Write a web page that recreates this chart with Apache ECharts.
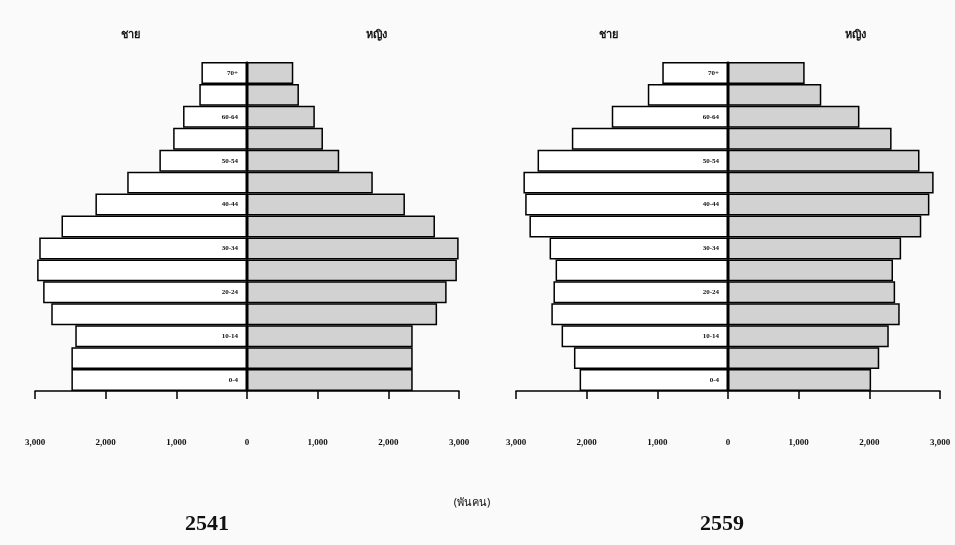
<!DOCTYPE html>
<html>
<head>
<meta charset="utf-8">
<script src="https://cdn.jsdelivr.net/npm/echarts@6/dist/echarts.min.js"></script>
<style>
  html, body { margin: 0; padding: 0; background: #fafafa; }
  #chart { width: 955px; height: 545px; }
</style>
</head>
<body>
<div id="chart"></div>
<script>
// กลุ่มอายุ (ล่างขึ้นบน)
var ages = ['0-4', '5-9', '10-14', '15-19', '20-24', '25-29', '30-34', '35-39',
            '40-44', '45-49', '50-54', '55-59', '60-64', '65-69', '70+'];

// ประชากร (พันคน) ปี 2541
var male2541   = [2485, 2485, 2430, 2770, 2885, 2970, 2940, 2625, 2145, 1695, 1240, 1045, 905, 675, 645];
var female2541 = [2345, 2345, 2345, 2690, 2825, 2970, 2995, 2660, 2235, 1780, 1305, 1075, 960, 735, 655];

// ประชากร (พันคน) ปี 2559
var male2559   = [2100, 2180, 2355, 2500, 2470, 2440, 2525, 2810, 2870, 2895, 2695, 2210, 1645, 1135, 930];
var female2559 = [2025, 2140, 2275, 2430, 2365, 2335, 2450, 2735, 2850, 2910, 2710, 2315, 1860, 1320, 1085];

var axisTicks = [-3000, 3000, 1000];

var chart = echarts.init(document.getElementById('chart'));

function fmt(v) {
  return Math.abs(v).toLocaleString('en-US');
}

function makeGrid(left) {
  return { left: left, top: 62, width: 424, height: 329 };
}

function makeXAxis(idx) {
  return {
    type: 'value',
    gridIndex: idx,
    min: axisTicks[0], max: axisTicks[1], interval: axisTicks[2],
    axisLine: { show: true, onZero: false, lineStyle: { color: '#000', width: 1.5 } },
    axisTick: { show: true, length: 8, lineStyle: { color: '#000', width: 1.5 } },
    axisLabel: {
      formatter: fmt, margin: 47, color: '#111',
      fontFamily: 'Liberation Serif', fontSize: 9, fontWeight: 'bold'
    },
    splitLine: { show: false }
  };
}

function makeYAxis(idx) {
  return {
    type: 'category',
    gridIndex: idx,
    data: ages,
    axisLine: { show: true, onZero: true, lineStyle: { color: '#000', width: 1.5 } },
    axisTick: { show: false },
    axisLabel: { show: false }
  };
}

function makeBars(idx, values, fill, sign) {
  var s = {
    type: 'bar',
    xAxisIndex: idx, yAxisIndex: idx,
    data: values.map(function (v) { return sign * v; }),
    barCategoryGap: '0%',
    barGap: '-100%',
    itemStyle: { color: fill, borderColor: '#000', borderWidth: 1.5 },
    z: 1,
    silent: true
  };
  if (sign < 0) {
    // ป้ายกลุ่มอายุเว้นช่อง อยู่ในแท่งชายชิดแกนกลาง
    s.label = {
      show: true, position: 'insideRight', distance: 9,
      color: '#111', fontFamily: 'Liberation Serif', fontSize: 7, fontWeight: 'bold',
      formatter: function (p) { return p.dataIndex % 2 === 0 ? ages[p.dataIndex] : ''; }
    };
  }
  return s;
}

function txt(x, y, s, size, weight, family) {
  return {
    type: 'text', x: x, y: y,
    style: {
      text: s, fill: '#111', align: 'center', verticalAlign: 'middle',
      font: (weight || 'normal') + ' ' + size + 'px ' + (family || '"Noto Sans", sans-serif')
    }
  };
}

chart.setOption({
  backgroundColor: '#fafafa',
  animation: false,
  grid: [makeGrid(35), makeGrid(516)],
  xAxis: [makeXAxis(0), makeXAxis(1)],
  yAxis: [makeYAxis(0), makeYAxis(1)],
  series: [
    makeBars(0, male2541, '#ffffff', -1),
    makeBars(0, female2541, '#d2d2d2', 1),
    makeBars(1, male2559, '#ffffff', -1),
    makeBars(1, female2559, '#d2d2d2', 1)
  ],
  graphic: [
    txt(130, 35, 'ชาย', 11, 'bold'),
    txt(376, 35, 'หญิง', 11, 'bold'),
    txt(608, 35, 'ชาย', 11, 'bold'),
    txt(855, 35, 'หญิง', 11, 'bold'),
    txt(472, 503, '(พันคน)', 11, 'normal'),
    txt(207, 524, '2541', 22, 'bold', '"Liberation Serif", serif'),
    txt(722, 524, '2559', 22, 'bold', '"Liberation Serif", serif')
  ]
});
</script>
</body>
</html>
